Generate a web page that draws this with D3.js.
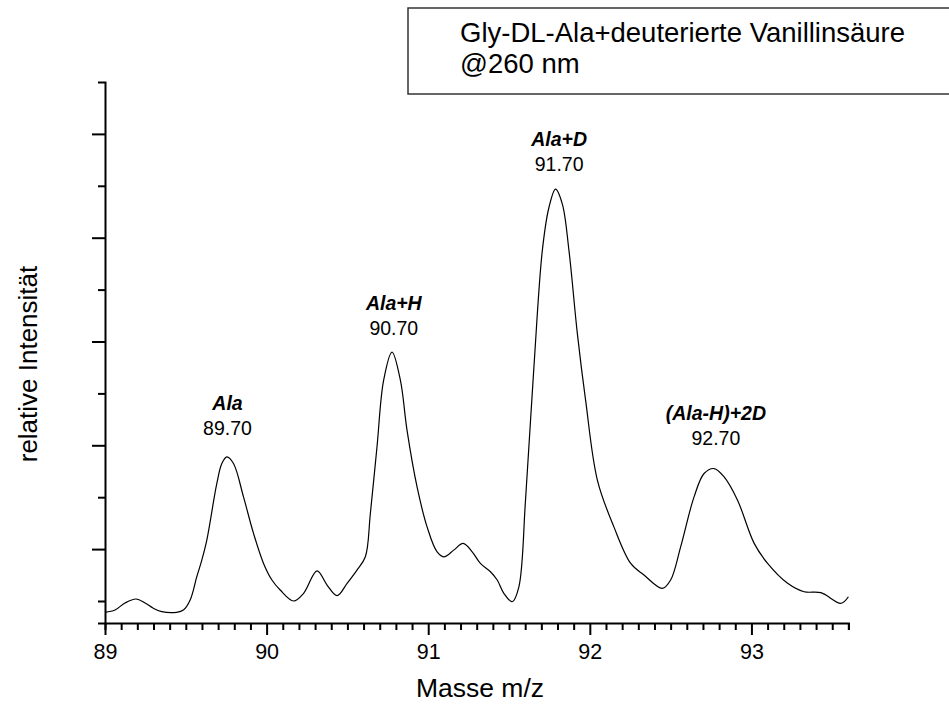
<!DOCTYPE html>
<html>
<head>
<meta charset="utf-8">
<script src="https://cdn.jsdelivr.net/npm/d3@7"></script>
<style>
  body { margin: 0; background: #fff; }
  text { font-family: "Liberation Sans", Arial, sans-serif; fill: #000; }
</style>
</head>
<body>
<div id="chart"></div>
<script>
// spectrum trace (m/z, relative intensity)
const mass = [89.000, 89.062, 89.124, 89.192, 89.248, 89.299, 89.351, 89.444, 89.485, 89.527,
  89.568, 89.599, 89.630, 89.692, 89.723, 89.754, 89.795, 89.857, 89.919,
  89.981, 90.033, 90.084, 90.167, 90.229, 90.312, 90.374, 90.436, 90.498, 90.559,
  90.611, 90.642, 90.683, 90.724, 90.776, 90.828, 90.869, 90.931, 90.993, 91.055,
  91.100, 91.158, 91.216, 91.272, 91.323, 91.385, 91.427, 91.468, 91.520, 91.561,
  91.602, 91.654, 91.706, 91.747, 91.788, 91.830, 91.871, 91.923, 91.974, 92.047,
  92.149, 92.253, 92.335, 92.449, 92.500, 92.562, 92.645, 92.707, 92.769, 92.831,
  92.914, 93.017, 93.100, 93.224, 93.326, 93.430, 93.554, 93.600];
const intensity = [0.391, 0.413, 0.481, 0.519, 0.481, 0.430, 0.397, 0.391, 0.413, 0.510,
  0.734, 0.894, 1.087, 1.632, 1.824, 1.888, 1.824, 1.503, 1.151,
  0.862, 0.702, 0.606, 0.500, 0.574, 0.791, 0.654, 0.551, 0.670, 0.798,
  0.926, 1.343, 1.984, 2.625, 2.897, 2.625, 2.144, 1.599, 1.214, 0.974,
  0.926, 0.990, 1.055, 0.974, 0.862, 0.782, 0.702, 0.574, 0.493, 0.637,
  1.471, 2.753, 3.875, 4.291, 4.468, 4.324, 3.875, 3.074, 2.433, 1.663,
  1.214, 0.862, 0.750, 0.622, 0.702, 1.022, 1.503, 1.728, 1.776, 1.695,
  1.471, 1.055, 0.862, 0.670, 0.589, 0.580, 0.478, 0.541];

// peak annotations
const peakNames = ["Ala", "Ala+H", "Ala+D", "(Ala-H)+2D"];
const peakValues = ["89.70", "90.70", "91.70", "92.70"];
const labelMass = [89.758, 90.787, 91.81, 92.78];
const labelLevel = [2.096, 3.058, 4.644, 2.0];

const legendLines = ["Gly-DL-Ala+deuterierte Vanillinsäure", "@260 nm"];
const xTicks = [89, 90, 91, 92, 93];

const width = 949, height = 707;
const margin = {top: 82, right: 100.6, bottom: 84, left: 105};

const svg = d3.select("#chart").append("svg")
    .attr("width", width)
    .attr("height", height);

const x = d3.scaleLinear()
    .domain([89, 93.6])
    .range([margin.left, width - margin.right]);

const y = d3.scaleLinear()
    .domain([0.288, 5.5])
    .range([height - margin.bottom, margin.top]);

// x axis: major ticks at whole numbers, minor every 0.1
const xMinor = d3.range(0, 47).map(i => 89 + i * 0.1).filter(v => Math.abs(v - Math.round(v)) > 1e-6);
const xAxisG = svg.append("g").attr("transform", `translate(0,${y.range()[0]})`);
xAxisG.call(d3.axisBottom(x).tickValues(xMinor).tickSize(7).tickFormat(""));
xAxisG.call(g => g.append("g").call(d3.axisBottom(x).tickValues(xTicks).tickSize(12).tickPadding(9).tickFormat(d3.format("d"))));
xAxisG.selectAll(".domain").attr("stroke", "#000").attr("stroke-width", 2);
xAxisG.selectAll("line").attr("stroke", "#000").attr("stroke-width", 2);
xAxisG.selectAll("text").style("font-size", "21.5px").attr("fill", "#000");

// y axis: unlabeled ticks
const yAxisG = svg.append("g").attr("transform", `translate(${margin.left},0)`);
yAxisG.call(d3.axisLeft(y).tickValues([0.5, 1.5, 2.5, 3.5, 4.5]).tickSize(7).tickFormat(""));
yAxisG.call(g => g.append("g").call(d3.axisLeft(y).tickValues([1, 2, 3, 4, 5]).tickSize(13).tickFormat("")));
yAxisG.selectAll(".domain").attr("stroke", "#000").attr("stroke-width", 2);
yAxisG.selectAll("line").attr("stroke", "#000").attr("stroke-width", 2);
// remove the end caps of the nested domain paths
yAxisG.selectAll("g > g .domain").remove();
xAxisG.selectAll("g > g .domain").remove();

// spectrum line
const points = mass.map((m, i) => [m, intensity[i]]);
svg.append("path")
    .datum(points)
    .attr("fill", "none")
    .attr("stroke", "#000")
    .attr("stroke-width", 1.2)
    .attr("d", d3.line().x(d => x(d[0])).y(d => y(d[1])).curve(d3.curveCatmullRom.alpha(0.5)));

// peak labels
const lbl = svg.append("g").attr("text-anchor", "middle").style("font-size", "19.5px");
peakNames.forEach((name, i) => {
    lbl.append("text")
        .attr("x", x(labelMass[i]))
        .attr("y", y(labelLevel[i]) - 25)
        .style("font-weight", "bold")
        .style("font-style", "italic")
        .text(name);
    lbl.append("text")
        .attr("x", x(labelMass[i]))
        .attr("y", y(labelLevel[i]))
        .text(peakValues[i]);
});

// axis titles
svg.append("text")
    .attr("x", 480)
    .attr("y", 697)
    .attr("text-anchor", "middle")
    .style("font-size", "26.5px")
    .text("Masse m/z");

svg.append("text")
    .attr("transform", "translate(37,364) rotate(-90)")
    .attr("text-anchor", "middle")
    .style("font-size", "26px")
    .text("relative Intensität");

// legend box
svg.append("rect")
    .attr("x", 408)
    .attr("y", 8)
    .attr("width", 560)
    .attr("height", 86)
    .attr("fill", "#fff")
    .attr("stroke", "#333")
    .attr("stroke-width", 1.5);

legendLines.forEach((t, i) => {
    svg.append("text")
        .attr("x", 460)
        .attr("y", 42 + i * 31)
        .style("font-size", "27.5px")
        .text(t);
});
</script>
</body>
</html>
